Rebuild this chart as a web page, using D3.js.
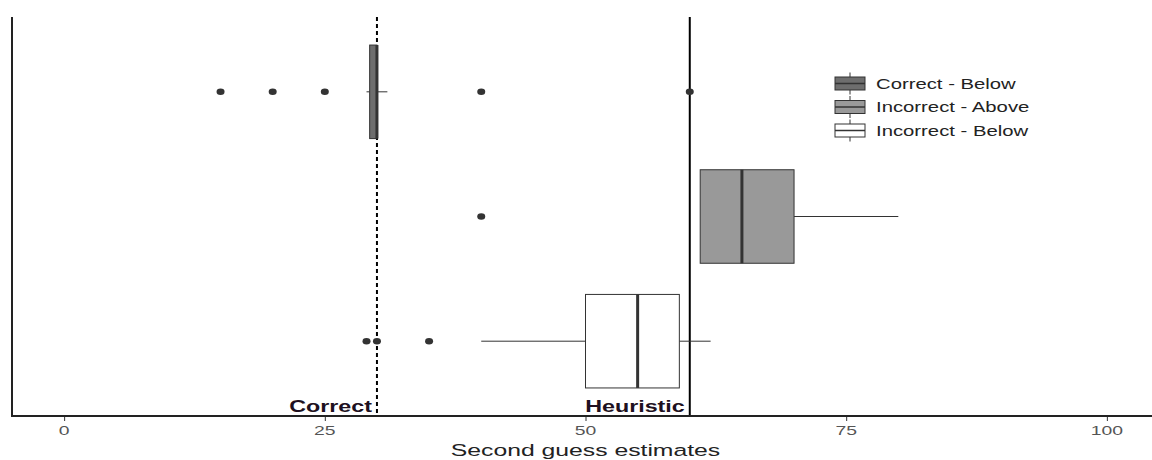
<!DOCTYPE html>
<html>
<head>
<meta charset="utf-8">
<script src="https://cdn.jsdelivr.net/npm/d3@7"></script>
<style>
  body { margin: 0; background: #fff; }
  svg { display: block; font-family: "Liberation Sans", Arial, sans-serif; }
</style>
</head>
<body>
<div id="chart"></div>
<script>
// groups, top to bottom
const groups = ['Correct - Below', 'Incorrect - Above', 'Incorrect - Below'];
const fills = ['#6e6e6e', '#999999', '#ffffff'];
const q1 = [29.3, 61, 50];
const median = [30, 65, 55];
const q3 = [30, 70, 59];
const whiskerLow = [29, 61, 40];
const whiskerHigh = [31, 80, 62];
const outliers = [[15, 20, 25, 40, 60], [40], [29, 30, 35]];
const xTicks = [0, 25, 50, 75, 100];
const refLines = [
  { value: 30, label: 'Correct', dash: '4,3' },
  { value: 60, label: 'Heuristic', dash: null }
];

const width = 1152, height = 460;
const svg = d3.select('#chart').append('svg')
  .attr('width', width).attr('height', height);

// the source picture is stretched sideways, so text is widened too
function wideText(parent, px, py, sx, txt) {
  return parent.append('text')
    .attr('transform', `translate(${px},${py}) scale(${sx},1)`)
    .text(txt);
}

const x = d3.scaleLinear().domain([-5, 105]).range([12, 1159]);
const y = d3.scalePoint().domain(groups).range([17, 416]).padding(0.6);
const boxH = y.step() * 0.75;

// reference lines
refLines.forEach(r => {
  svg.append('line')
    .attr('x1', x(r.value)).attr('x2', x(r.value))
    .attr('y1', 17).attr('y2', 416)
    .attr('stroke', '#000').attr('stroke-width', 2)
    .attr('stroke-dasharray', r.dash);
});

const rows = groups.map((g, i) => ({
  g, fill: fills[i], q1: q1[i], med: median[i], q3: q3[i],
  lo: whiskerLow[i], hi: whiskerHigh[i], out: outliers[i]
}));

const box = svg.selectAll('.box').data(rows).enter().append('g').attr('class', 'box');

// whiskers
box.append('line')
  .attr('x1', d => x(d.lo)).attr('x2', d => x(d.q1))
  .attr('y1', d => y(d.g)).attr('y2', d => y(d.g))
  .attr('stroke', '#333').attr('stroke-width', 1);
box.append('line')
  .attr('x1', d => x(d.q3)).attr('x2', d => x(d.hi))
  .attr('y1', d => y(d.g)).attr('y2', d => y(d.g))
  .attr('stroke', '#333').attr('stroke-width', 1);

box.append('rect')
  .attr('x', d => x(d.q1))
  .attr('width', d => x(d.q3) - x(d.q1))
  .attr('y', d => y(d.g) - boxH / 2)
  .attr('height', boxH)
  .attr('fill', d => d.fill)
  .attr('stroke', '#333').attr('stroke-width', 1);

box.append('line')
  .attr('x1', d => x(d.med)).attr('x2', d => x(d.med))
  .attr('y1', d => y(d.g) - boxH / 2).attr('y2', d => y(d.g) + boxH / 2)
  .attr('stroke', '#333').attr('stroke-width', 3);

// outliers
box.selectAll('ellipse')
  .data(d => d.out.map(v => ({ v, g: d.g })))
  .enter().append('ellipse')
  .attr('cx', d => x(d.v)).attr('cy', d => y(d.g))
  .attr('rx', 4).attr('ry', 3.2)
  .attr('fill', '#333');

// reference labels
refLines.forEach(r => {
  wideText(svg, x(r.value) - 5, 412, 1.37, r.label)
    .attr('text-anchor', 'end')
    .attr('font-weight', 'bold').attr('font-size', 17)
    .attr('fill', '#201020');
});

// axes lines
svg.append('line').attr('x1', 12).attr('x2', 12).attr('y1', 17).attr('y2', 416)
  .attr('stroke', '#222').attr('stroke-width', 2);
svg.append('line').attr('x1', 11).attr('x2', 1152).attr('y1', 416).attr('y2', 416)
  .attr('stroke', '#222').attr('stroke-width', 2);

const xAxis = svg.append('g')
  .attr('transform', 'translate(0,417)')
  .call(d3.axisBottom(x).tickValues(xTicks).tickSize(4).tickFormat(''));
xAxis.select('.domain').remove();
xAxis.selectAll('line').attr('stroke', '#333');

xTicks.forEach(t => {
  wideText(svg, x(t), 435, 1.55, d3.format('d')(t))
    .attr('text-anchor', 'middle')
    .attr('font-size', 12.5).attr('fill', '#555');
});

wideText(svg, x(50), 456, 1.5, 'Second guess estimates')
  .attr('text-anchor', 'middle')
  .attr('font-size', 16.5).attr('fill', '#222');

// legend
const leg = svg.append('g').attr('transform', 'translate(835,0)');
const legY = [83.5, 107, 130.5];
groups.forEach((g, i) => {
  const cy = legY[i];
  leg.append('line').attr('x1', 15).attr('x2', 15).attr('y1', cy - 11).attr('y2', cy + 11)
    .attr('stroke', '#333').attr('stroke-width', 1);
  leg.append('rect').attr('x', 0).attr('y', cy - 6.5).attr('width', 30).attr('height', 13)
    .attr('fill', fills[i]).attr('stroke', '#333').attr('stroke-width', 1);
  leg.append('line').attr('x1', 0).attr('x2', 30).attr('y1', cy).attr('y2', cy)
    .attr('stroke', '#333').attr('stroke-width', 1.5);
  wideText(leg, 41, cy + 5, 1.45, g)
    .attr('font-size', 14).attr('fill', '#222');
});
</script>
</body>
</html>
